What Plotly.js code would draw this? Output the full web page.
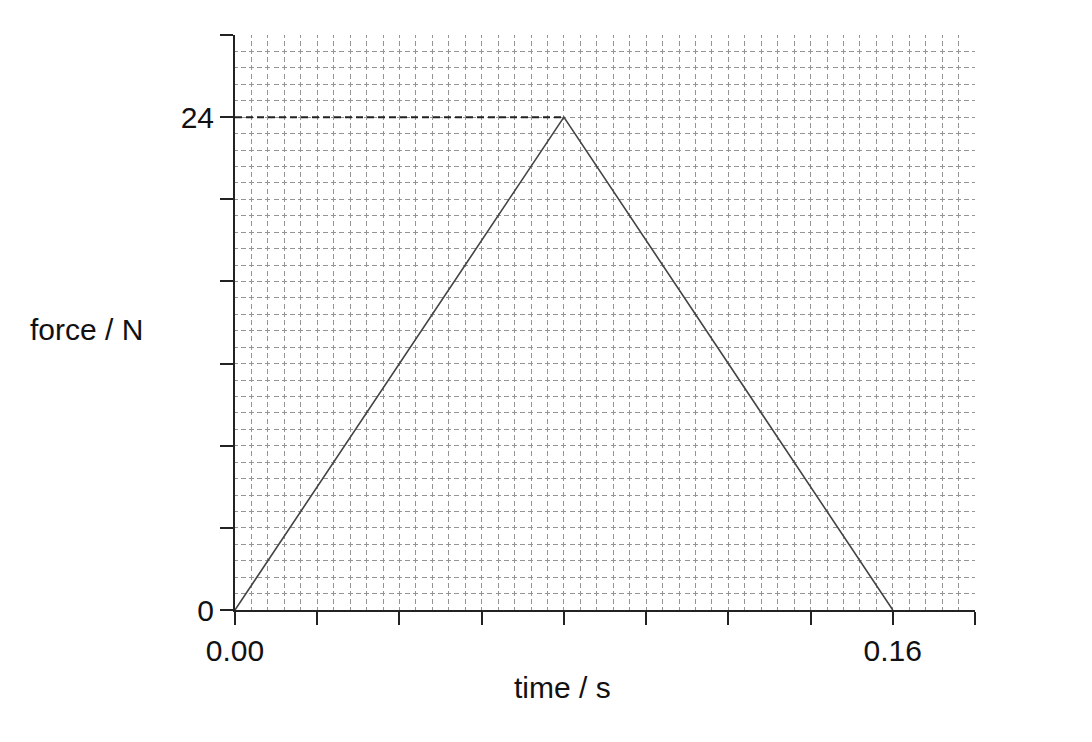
<!DOCTYPE html>
<html>
<head>
<meta charset="utf-8">
<script src="https://cdn.plot.ly/plotly-3.0.1.min.js"></script>
<style>html,body{margin:0;padding:0;background:#fff;}#chart{width:1092px;height:742px;}</style>
</head>
<body>
<div id="chart"></div>
<script>
// Data
const time = [0.00, 0.08, 0.16];
const force = [0, 24, 0];
const peakGuideX = [0.00, 0.08];
const peakGuideY = [24, 24];

const xTickVals = [0, 0.02, 0.04, 0.06, 0.08, 0.10, 0.12, 0.14, 0.16, 0.18];
const xTickText = ["0.00", "", "", "", "", "", "", "", "0.16", ""];
const yTickVals = [0, 4, 8, 12, 16, 20, 24, 28];
const yTickText = ["0", "", "", "", "", "", "24", ""];

const font = {family: "Liberation Sans, Arial, Helvetica, sans-serif", size: 30, color: "#111"};
const gridColor = "#959595";
// dashes centred on each grid intersection (half-dash at line start)
const dashVertical = "2.5px,3.214px,2.5px,0px";   // vertical grid lines
const dashHorizontal = "2.5px,3.222px,2.5px,0px"; // horizontal grid lines

const traces = [
  {x: peakGuideX, y: peakGuideY, mode: "lines", line: {color: "#222", width: 2, dash: "7px,4px"}, hoverinfo: "skip"},
  {x: time, y: force, mode: "lines", line: {color: "#444", width: 1.6}}
];

const layout = {
  width: 1092, height: 742,
  margin: {l: 235, r: 117, t: 35, b: 132},
  paper_bgcolor: "#fff", plot_bgcolor: "#fff",
  showlegend: false,
  font: font,
  xaxis: {
    range: [0, 0.18],
    tickmode: "array", tickvals: xTickVals, ticktext: xTickText,
    ticks: "outside", ticklen: 13, tickwidth: 2, tickcolor: "#222",
    showline: true, linecolor: "#222", linewidth: 2,
    showgrid: true, gridcolor: gridColor, griddash: dashVertical, gridwidth: 1,
    minor: {tick0: 0, dtick: 0.004, showgrid: true, gridcolor: gridColor, griddash: dashVertical, gridwidth: 1, ticks: ""},
    zeroline: false,
    tickfont: font
  },
  yaxis: {
    range: [0, 28],
    tickmode: "array", tickvals: yTickVals, ticktext: yTickText,
    ticks: "outside", ticklen: 13, tickwidth: 2, tickcolor: "#222",
    showline: true, linecolor: "#222", linewidth: 2,
    showgrid: true, gridcolor: gridColor, griddash: dashHorizontal, gridwidth: 1,
    minor: {tick0: 0, dtick: 0.8, showgrid: true, gridcolor: gridColor, griddash: dashHorizontal, gridwidth: 1, ticks: ""},
    zeroline: false,
    tickfont: font
  },
  annotations: [
    {text: "force / N", xref: "paper", yref: "paper", x: 0, y: 0.487, xanchor: "right", yanchor: "middle",
     xshift: -90, showarrow: false, font: font},
    {text: "time / s", xref: "paper", yref: "paper", x: 0.443, y: 0, xanchor: "center", yanchor: "middle",
     yshift: -77, showarrow: false, font: font}
  ]
};

Plotly.newPlot("chart", traces, layout, {displayModeBar: false, staticPlot: true});
</script>
</body>
</html>
